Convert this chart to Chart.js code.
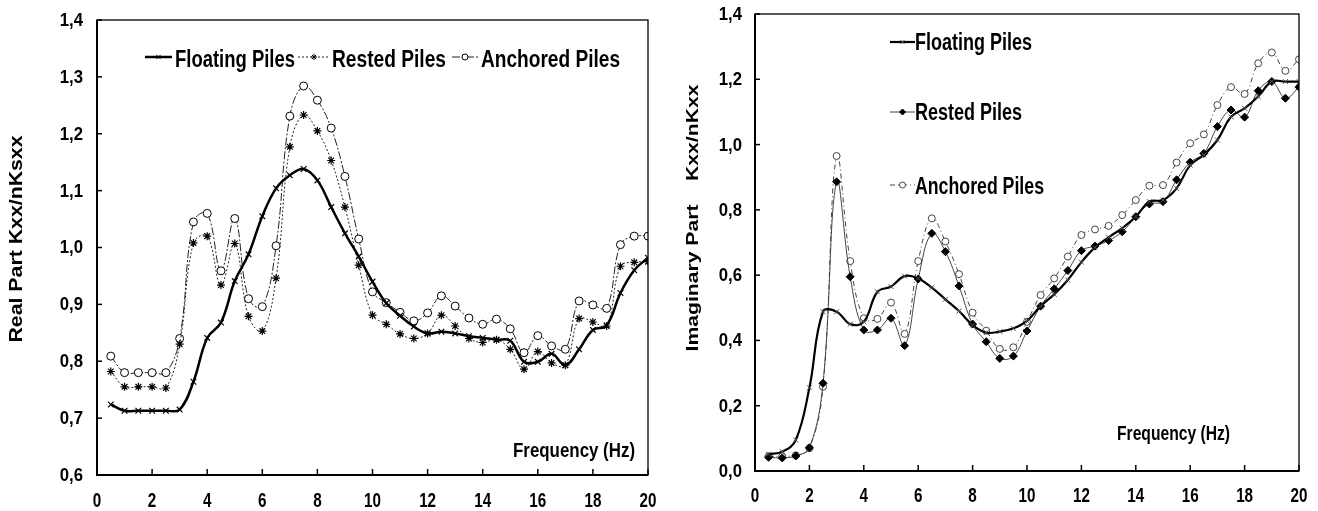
<!DOCTYPE html>
<html>
<head>
<meta charset="utf-8">
<script src="https://cdn.jsdelivr.net/npm/chart.js@4"></script>
<style>
  html, body { margin: 0; padding: 0; background: #fff; }
  #wrap { position: relative; width: 1318px; height: 511px; }
  .box { position: absolute; top: 0; height: 511px; }
</style>
</head>
<body>
<div id="wrap">
  <div class="box" style="left:0;width:660px"><canvas id="realChart"></canvas></div>
  <div class="box" style="left:660px;width:658px"><canvas id="imagChart"></canvas></div>
</div>
<script>
const frequency = [0.5, 1, 1.5, 2, 2.5, 3, 3.5, 4, 4.5, 5, 5.5, 6, 6.5, 7, 7.5, 8, 8.5, 9, 9.5, 10,
  10.5, 11, 11.5, 12, 12.5, 13, 13.5, 14, 14.5, 15, 15.5, 16, 16.5, 17, 17.5, 18, 18.5, 19, 19.5, 20];

const seriesNames = ["Floating Piles", "Rested Piles", "Anchored Piles"];

// real part Kxx/nKsxx
const realFloating = [0.724, 0.713, 0.713, 0.713, 0.713, 0.715, 0.764, 0.841, 0.868, 0.941,
  0.988, 1.055, 1.104, 1.127, 1.138, 1.118, 1.071, 1.025, 0.984, 0.940,
  0.902, 0.880, 0.861, 0.849, 0.852, 0.849, 0.844, 0.841, 0.838, 0.836,
  0.799, 0.799, 0.813, 0.793, 0.821, 0.855, 0.863, 0.920, 0.960, 0.982];
const realRested = [0.782, 0.755, 0.755, 0.755, 0.753, 0.830, 1.008, 1.020, 0.934, 1.007,
  0.879, 0.853, 0.946, 1.177, 1.233, 1.205, 1.153, 1.071, 0.969, 0.881,
  0.865, 0.848, 0.840, 0.849, 0.881, 0.862, 0.840, 0.833, 0.838, 0.821,
  0.786, 0.817, 0.797, 0.793, 0.875, 0.869, 0.862, 0.967, 0.974, 0.975];
const realAnchored = [0.809, 0.780, 0.780, 0.780, 0.780, 0.840, 1.045, 1.060, 0.959, 1.051,
  0.910, 0.896, 1.003, 1.231, 1.284, 1.259, 1.210, 1.125, 1.015, 0.922,
  0.903, 0.886, 0.871, 0.885, 0.915, 0.897, 0.876, 0.865, 0.874, 0.857,
  0.815, 0.845, 0.827, 0.821, 0.906, 0.899, 0.893, 1.005, 1.020, 1.020];

// imaginary part Kxx/nKxx
const imagFloating = [0.052, 0.059, 0.095, 0.255, 0.488, 0.488, 0.450, 0.457, 0.549, 0.565,
  0.597, 0.590, 0.562, 0.526, 0.490, 0.447, 0.424, 0.427, 0.437, 0.460,
  0.505, 0.541, 0.585, 0.640, 0.685, 0.716, 0.744, 0.779, 0.825, 0.830,
  0.866, 0.937, 0.968, 1.014, 1.085, 1.111, 1.147, 1.193, 1.193, 1.193];
const imagRested = [0.042, 0.040, 0.046, 0.071, 0.269, 0.886, 0.595, 0.432, 0.432, 0.468,
  0.384, 0.588, 0.728, 0.672, 0.567, 0.450, 0.396, 0.345, 0.352, 0.429,
  0.505, 0.558, 0.614, 0.675, 0.689, 0.706, 0.733, 0.779, 0.818, 0.825,
  0.892, 0.946, 0.973, 1.055, 1.106, 1.084, 1.165, 1.193, 1.142, 1.176];
const imagAnchored = [0.045, 0.045, 0.048, 0.070, 0.258, 0.965, 0.643, 0.468, 0.466, 0.516,
  0.420, 0.643, 0.774, 0.703, 0.603, 0.485, 0.430, 0.374, 0.379, 0.457,
  0.539, 0.590, 0.657, 0.723, 0.740, 0.751, 0.784, 0.830, 0.874, 0.876,
  0.945, 1.004, 1.031, 1.121, 1.176, 1.155, 1.249, 1.282, 1.226, 1.261];

const FONT = '"Liberation Sans", Arial, sans-serif';

Chart.defaults.font.family = FONT;
Chart.defaults.color = "#000";

function pts(ys) {
  return frequency.map((f, i) => ({ x: f, y: ys[i] }));
}

function comma(v) {
  return v.toFixed(1).replace(".", ",");
}

// bold text squeezed or stretched horizontally (the figure uses a narrow face)
function drawText(ctx, text, x, y, size, sx, align, baseline) {
  ctx.save();
  ctx.font = "bold " + size + "px " + FONT;
  ctx.textAlign = align || "left";
  ctx.textBaseline = baseline || "alphabetic";
  ctx.translate(x, y);
  ctx.scale(sx, 1);
  ctx.fillText(text, 0, 0);
  ctx.restore();
}

function fitText(ctx, text, x, y, size, width, align, baseline) {
  ctx.save();
  ctx.font = "bold " + size + "px " + FONT;
  const sx = width / ctx.measureText(text).width;
  ctx.restore();
  drawText(ctx, text, x, y, size, sx, align, baseline);
}

// frame, inside ticks, tick labels, titles and legend
const decorPlugin = {
  id: "decor",
  afterDraw(chart, args, o) {
    const { ctx, chartArea: a, scales } = chart;
    ctx.save();
    ctx.strokeStyle = "#000";
    ctx.fillStyle = "#000";
    ctx.setLineDash([]);
    ctx.lineWidth = 1.3;
    ctx.strokeRect(a.left, a.top, a.right - a.left, a.bottom - a.top);
    ctx.lineWidth = 2;
    ctx.beginPath();
    ctx.moveTo(a.left, a.top);
    ctx.lineTo(a.left, a.bottom);
    ctx.lineTo(a.right, a.bottom);
    ctx.stroke();

    ctx.lineWidth = 1.5;
    scales.x.ticks.forEach(t => {
      const px = scales.x.getPixelForValue(t.value);
      ctx.beginPath();
      ctx.moveTo(px, a.bottom);
      ctx.lineTo(px, a.bottom - 6);
      ctx.stroke();
      drawText(ctx, String(t.value), px, o.xLabelY, 19.5, 0.78, "center", "middle");
    });
    scales.y.ticks.forEach(t => {
      const py = scales.y.getPixelForValue(t.value);
      ctx.beginPath();
      ctx.moveTo(a.left, py);
      ctx.lineTo(a.left + 5, py);
      ctx.stroke();
      drawText(ctx, comma(t.value), a.left - o.yLabelGap, py + 1, 18, 0.93, "right", "middle");
    });

    ctx.save();
    ctx.translate(o.yTitleX, o.yTitleY);
    ctx.rotate(-Math.PI / 2);
    fitText(ctx, o.yTitle, 0, 0, o.yTitleSize, o.yTitleLen, "center", "middle");
    ctx.restore();

    fitText(ctx, "Frequency (Hz)", o.xText.x, o.xText.y, 21, o.xText.w);

    chart.data.datasets.forEach((ds, i) => {
      const L = o.legend[i];
      ctx.strokeStyle = ds.borderColor;
      ctx.lineWidth = ds.borderWidth;
      ctx.setLineDash(ds.borderDash || []);
      ctx.beginPath();
      ctx.moveTo(L.x0, L.y);
      ctx.lineTo(L.x1, L.y);
      ctx.stroke();
      ctx.setLineDash([]);
      ctx.strokeStyle = ds.pointBorderColor;
      ctx.fillStyle = ds.pointBackgroundColor;
      ctx.lineWidth = 1;
      Chart.helpers.drawPoint(ctx, {
        pointStyle: ds.pointStyle, radius: 3, rotation: 0, borderWidth: 1
      }, (L.x0 + L.x1) / 2, L.y);
      ctx.fillStyle = "#000";
      fitText(ctx, ds.label, L.tx, L.ty, 23, L.tw);
    });
    ctx.restore();
  }
};

function scaleOpts(min, max, step, yWidth, xHeight) {
  return {
    x: {
      type: "linear", min: 0, max: 20,
      afterFit: s => { s.height = xHeight; },
      ticks: { stepSize: 2, display: false },
      grid: { display: false },
      border: { display: false }
    },
    y: {
      min: min, max: max,
      afterFit: s => { s.width = yWidth; },
      ticks: { stepSize: step, display: false },
      grid: { display: false },
      border: { display: false }
    }
  };
}

new Chart(document.getElementById("realChart"), {
  type: "line",
  data: {
    datasets: [
      {
        label: seriesNames[0], data: pts(realFloating),
        borderColor: "#000", borderWidth: 2.5, tension: 0.4,
        pointStyle: "crossRot", pointRadius: 4, pointBorderWidth: 1.2,
        pointBorderColor: "#000", pointBackgroundColor: "#000"
      },
      {
        label: seriesNames[1], data: pts(realRested),
        borderColor: "#222", borderWidth: 1, borderDash: [2, 2], tension: 0.4,
        pointStyle: "star", pointRadius: 4, pointBorderWidth: 1.2,
        pointBorderColor: "#000", pointBackgroundColor: "#000"
      },
      {
        label: seriesNames[2], data: pts(realAnchored),
        borderColor: "#222", borderWidth: 1, borderDash: [8, 2, 2, 2], tension: 0.4,
        pointStyle: "circle", pointRadius: 4, pointBorderWidth: 1,
        pointBorderColor: "#000", pointBackgroundColor: "#fff"
      }
    ]
  },
  options: {
    responsive: true,
    maintainAspectRatio: false,
    animation: false,
    layout: { padding: { left: 0, top: 20, right: 12, bottom: 0 } },
    plugins: {
      legend: { display: false },
      tooltip: { enabled: false },
      decor: {
        xLabelY: 502, yLabelGap: 14,
        yTitle: "Real Part Kxx/nKsxx", yTitleX: 17, yTitleY: 239, yTitleSize: 18, yTitleLen: 207,
        xText: { x: 513, y: 457, w: 122 },
        legend: [
          { x0: 145, x1: 172, y: 57, tx: 175, ty: 67, tw: 120 },
          { x0: 298, x1: 330, y: 57, tx: 332, ty: 67, tw: 114 },
          { x0: 452, x1: 478, y: 57, tx: 481, ty: 67, tw: 139 }
        ]
      }
    },
    scales: scaleOpts(0.6, 1.4, 0.1, 97, 36)
  },
  plugins: [decorPlugin]
});

new Chart(document.getElementById("imagChart"), {
  type: "line",
  data: {
    datasets: [
      {
        label: seriesNames[0], data: pts(imagFloating),
        borderColor: "#000", borderWidth: 2.2, tension: 0.4,
        pointStyle: "crossRot", pointRadius: 3.5, pointBorderWidth: 1,
        pointBorderColor: "#555", pointBackgroundColor: "#555"
      },
      {
        label: seriesNames[1], data: pts(imagRested),
        borderColor: "#444", borderWidth: 1, tension: 0.4,
        pointStyle: "rectRot", pointRadius: 4, pointBorderWidth: 1,
        pointBorderColor: "#000", pointBackgroundColor: "#000"
      },
      {
        label: seriesNames[2], data: pts(imagAnchored),
        borderColor: "#444", borderWidth: 1, borderDash: [5, 3, 1, 3], tension: 0.4,
        pointStyle: "circle", pointRadius: 3.5, pointBorderWidth: 1,
        pointBorderColor: "#444", pointBackgroundColor: "#fff"
      }
    ]
  },
  options: {
    responsive: true,
    maintainAspectRatio: false,
    animation: false,
    layout: { padding: { left: 0, top: 14, right: 19, bottom: 0 } },
    plugins: {
      legend: { display: false },
      tooltip: { enabled: false },
      decor: {
        xLabelY: 497, yLabelGap: 13,
        yTitle: "Imaginary Part    Kxx/nKxx", yTitleX: 33, yTitleY: 218, yTitleSize: 17, yTitleLen: 267,
        xText: { x: 457, y: 440, w: 113 },
        legend: [
          { x0: 230, x1: 255, y: 42, tx: 255, ty: 50, tw: 117 },
          { x0: 230, x1: 255, y: 112, tx: 255, ty: 120, tw: 107 },
          { x0: 230, x1: 255, y: 185, tx: 255, ty: 194, tw: 129 }
        ]
      }
    },
    scales: scaleOpts(0, 1.4, 0.2, 95, 40)
  },
  plugins: [decorPlugin]
});
</script>
</body>
</html>
